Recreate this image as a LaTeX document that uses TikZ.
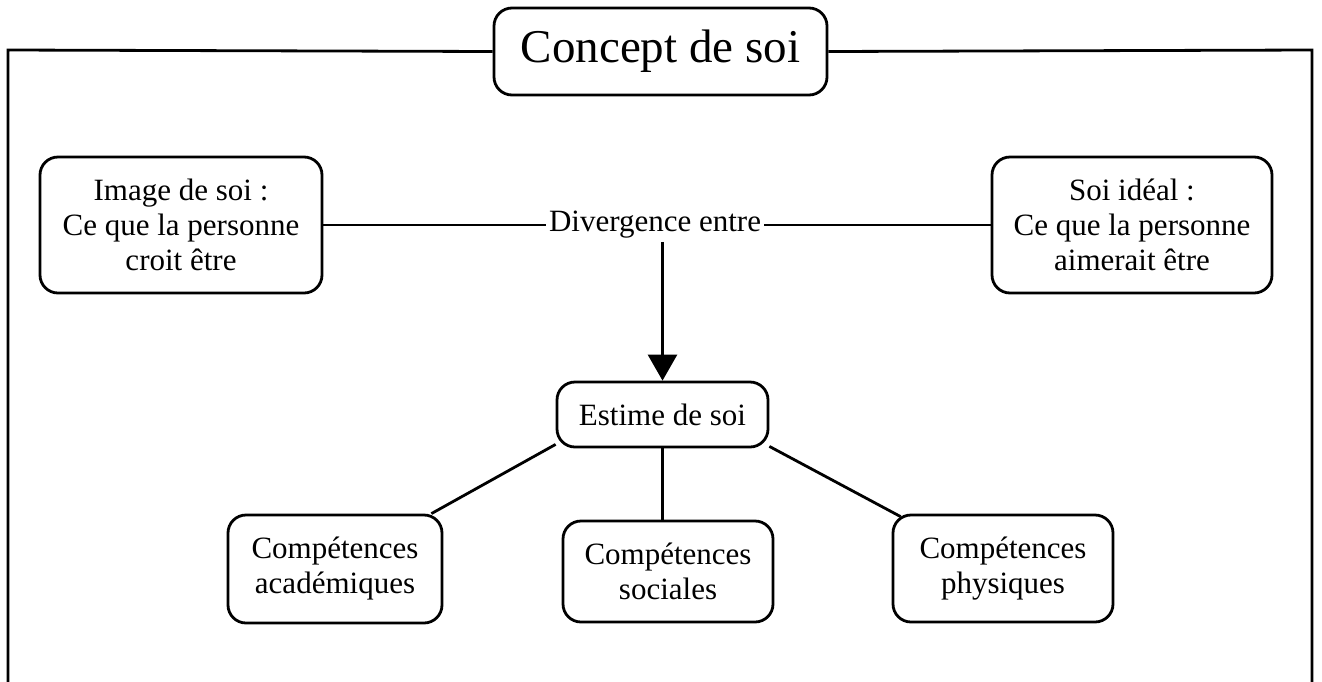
\documentclass[tikz,border=0pt]{standalone}
\usepackage{fontspec}
\setmainfont{Liberation Serif}
\usetikzlibrary{arrows.meta,calc}

\tikzset{
  box/.style={draw, line width=2.8pt, rounded corners=18pt, align=center,
              inner sep=0pt, font=\fontsize{31}{35}\selectfont},
  link/.style={line width=2.8pt},
  plain/.style={inner sep=3pt, font=\fontsize{31}{35}\selectfont}
}

\begin{document}
\begin{tikzpicture}[x=1pt, y=-1pt]
  \useasboundingbox (0,0) rectangle (1322,681);

  % title box sitting on the frame
  \node[box, minimum width=333pt, minimum height=87pt,
        font=\fontsize{47}{56}\selectfont] (title) at (660.5,51.5) {Concept de soi};

  % open frame around the diagram
  \coordinate (fl) at (8,684);
  \coordinate (fr) at (1312,684);
  \draw[link] (title.west) -- (8,50) -- (fl);
  \draw[link] (title.east) -- (1312,50) -- (fr);

  % self image and ideal self
  \node[box, minimum width=282pt, minimum height=136pt] (img) at (181,225)
    {Image de soi :\\Ce que la personne\\croit être};
  \node[box, minimum width=280pt, minimum height=136pt] (ideal) at (1132,225)
    {Soi idéal :\\Ce que la personne\\aimerait être};
  \node[plain] (div) at (655,225) {Divergence entre};

  \draw[link] (img.east) -- (div.west);
  \draw[link] (div.east) -- (ideal.west);

  % self esteem
  \node[box, minimum width=211pt, minimum height=65pt] (est) at (662.5,414.5) {Estime de soi};
  \draw[link, -{Triangle[length=26pt, width=29pt]}] (div.south -| est.north) -- (est.north);

  % competences
  \node[box, minimum width=214pt, minimum height=108pt] (acad) at (335,569)
    {Compétences\\académiques};
  \node[box, minimum width=210pt, minimum height=101pt] (soc) at (668,571.5)
    {Compétences\\sociales};
  \node[box, minimum width=220pt, minimum height=107pt] (phys) at (1003,568.5)
    {Compétences\\physiques};

  \draw[link] ($(est.south west)+(0,-4)$) -- ($(acad.north east)+(-12,0)$);
  \draw[link] (est.south) -- (est.south |- soc.north);
  \draw[link] ($(est.south east)+(0,-2)$) -- ($(phys.north west)+(9,3)$);
\end{tikzpicture}
\end{document}
